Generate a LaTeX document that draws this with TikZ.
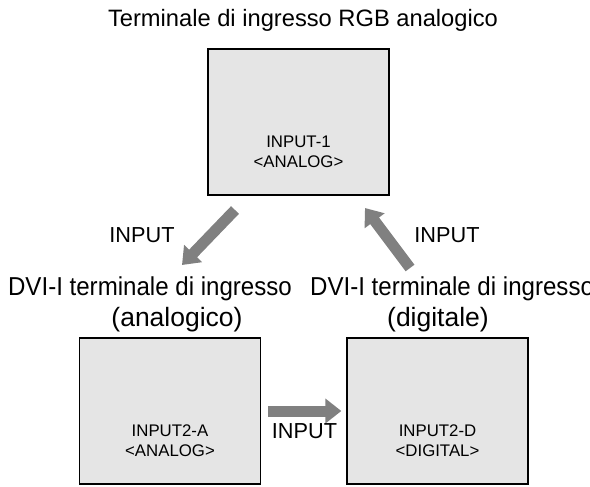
\documentclass[tikz,border=0pt]{standalone}
\usepackage{fontspec}
\setmainfont{Liberation Sans}
\newfontfamily\narrowsans[FakeStretch=0.93]{Liberation Sans}
\usetikzlibrary{arrows.meta}

\begin{document}
\begin{tikzpicture}[x=1pt,y=-1pt,>={Triangle[width=24pt,length=16pt]},
  screen/.style={draw=black,line width=1.3pt,fill=black!10,minimum width=181pt,minimum height=146pt,inner sep=0pt},
  screentext/.style={font=\fontsize{16.8}{20}\selectfont,align=center,anchor=base,inner sep=0pt},
  caption/.style={font=\narrowsans\fontsize{25.9}{30}\selectfont,anchor=base,inner sep=0pt},
  sub/.style={font=\fontsize{26.5}{30}\selectfont,anchor=base,inner sep=0pt},
  lbl/.style={font=\fontsize{21.7}{26}\selectfont,anchor=base,inner sep=0pt},
  fat/.style={->,draw=black!50,line width=11pt}]
  \useasboundingbox (0,0) rectangle (590,487);
  \clip (0,0) rectangle (590,487);
  \node[caption,font=\fontsize{23.7}{28}\selectfont] (title) at (303,27) {Terminale di ingresso RGB analogico};
  \node[screen] (1)  at (298.5,122) {};
  \node[screen] (2a) at (170,411)   {};
  \node[screen] (2d) at (437.5,411) {};
  \node[screentext] (t1)  at ([yshift=28.5pt]1.south)  {INPUT-1\\<ANALOG>};
  \node[screentext] (t2a) at ([yshift=28.5pt]2a.south) {INPUT2-A\\<ANALOG>};
  \node[screentext] (t2d) at ([yshift=28.5pt]2d.south) {INPUT2-D\\<DIGITAL>};
  \node[caption]             (dvia) at (150,295.5) {DVI-I terminale di ingresso};
  \node[sub]                 (suba) at (177,326)   {(analogico)};
  \node[caption,anchor=base west] (dvid) at (310,295.5) {DVI-I terminale di ingresso};
  \node[sub]                 (subd) at (438,326)   {(digitale)};
  \coordinate (a) at (235,210);
  \coordinate (b) at (182,265);
  \coordinate (c) at (410,268);
  \coordinate (d) at (365,208);
  \draw[fat] (a) -- (b);
  \draw[fat] (c) -- (d);
  \draw[fat,shorten <=7pt,shorten >=5pt] (2a.east) -- (2d.west);
  \node[lbl] (ina) at (142,242)   {INPUT};
  \node[lbl] (ind) at (447,242)   {INPUT};
  \node[lbl] (inb) at (304.5,438) {INPUT};
\end{tikzpicture}
\end{document}
